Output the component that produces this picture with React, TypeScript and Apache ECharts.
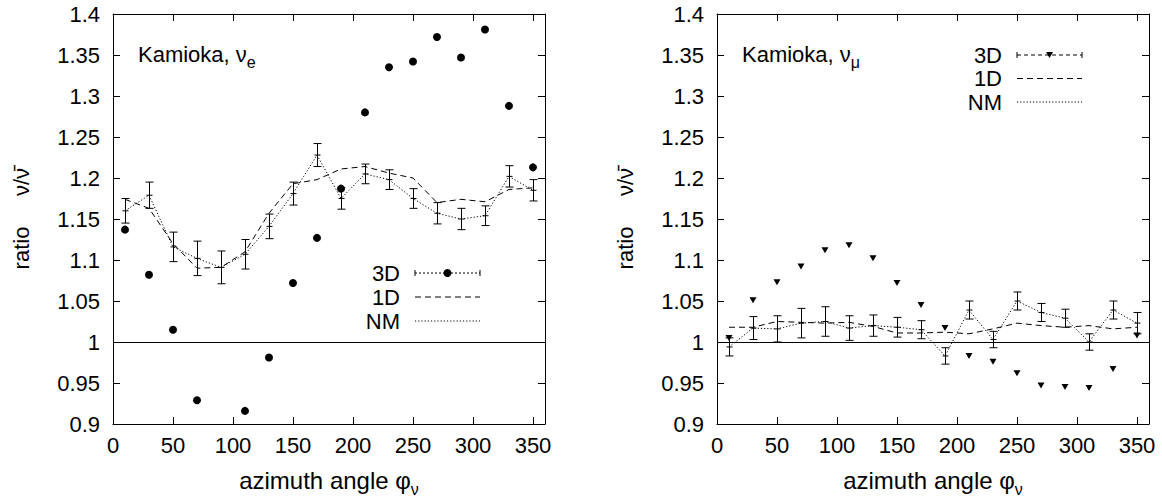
import React, { useEffect, useRef } from "react";
import * as echarts from "echarts";

const FONT = '"Liberation Sans", Arial, Helvetica, sans-serif';

// azimuth angle bins (degrees)
const angles = [10, 30, 50, 70, 90, 110, 130, 150, 170, 190, 210, 230, 250, 270, 290, 310, 330, 350];

// Kamioka, nu_e
const eCenter = [1.160, 1.179, 1.116, 1.102, 1.091, 1.107, 1.141, 1.181, 1.228, 1.175, 1.205, 1.198, 1.175, 1.157, 1.150, 1.154, 1.202, 1.185];
const eErr = [0.015, 0.016, 0.018, 0.021, 0.020, 0.018, 0.015, 0.014, 0.014, 0.013, 0.012, 0.012, 0.012, 0.013, 0.013, 0.012, 0.013, 0.013];
const e1D = [1.174, 1.163, 1.120, 1.090, 1.091, 1.110, 1.157, 1.193, 1.198, 1.211, 1.214, 1.206, 1.200, 1.170, 1.174, 1.171, 1.186, 1.188];
const e3D: (number | null)[] = [1.137, 1.082, 1.015, 0.929, null, 0.916, 0.981, 1.072, 1.127, 1.187, 1.280, 1.335, 1.342, 1.372, 1.347, 1.381, 1.288, 1.213];

// Kamioka, nu_mu
const mCenter = [0.994, 1.017, 1.016, 1.023, 1.025, 1.017, 1.020, 1.018, 1.015, 0.983, 1.039, 1.003, 1.050, 1.036, 1.029, 1.000, 1.039, 1.023];
const mErr = [0.011, 0.014, 0.016, 0.018, 0.018, 0.015, 0.013, 0.012, 0.011, 0.010, 0.011, 0.010, 0.011, 0.011, 0.011, 0.010, 0.011, 0.013];
const m1D = [1.018, 1.018, 1.025, 1.024, 1.023, 1.024, 1.019, 1.011, 1.011, 1.012, 1.010, 1.016, 1.023, 1.020, 1.018, 1.020, 1.016, 1.018];
const m3D: (number | null)[] = [1.005, 1.051, 1.073, 1.092, 1.112, 1.118, 1.102, 1.072, 1.045, 1.017, 0.983, 0.976, 0.962, 0.947, 0.945, 0.944, 0.967, 1.008];

const xTicks = { min: 0, max: 360, interval: 50 };
const yTicks = { min: 0.9, max: 1.4, interval: 0.05 };

const legendLabels = ["3D", "1D", "NM"];

function measure(text: string, size: number): number {
  const ctx = document.createElement("canvas").getContext("2d");
  if (!ctx) return text.length * size * 0.55;
  ctx.font = `${size}px ${FONT}`;
  return ctx.measureText(text).width;
}

const BLACK = "#000";
const DASH = [6, 4];
const DOT = [1.2, 2];

function txt(text: string, x: number, y: number, size: number, align = "left", extra: any = {}) {
  return {
    type: "text",
    x,
    y,
    ...extra,
    style: {
      text,
      x: 0,
      y: 0,
      fill: BLACK,
      fontSize: size,
      fontFamily: FONT,
      align,
      verticalAlign: "middle",
      textAlign: align,
      textVerticalAlign: "middle",
    },
  };
}

function xAxis(grid: number, pos: "bottom" | "top", labels: boolean) {
  return {
    type: "value",
    gridIndex: grid,
    position: pos,
    ...xTicks,
    axisLine: { show: true, onZero: false, lineStyle: { color: BLACK, width: 1 } },
    axisTick: { show: true, inside: true, length: 7, lineStyle: { color: BLACK, width: 1 } },
    axisLabel: {
      show: labels,
      color: BLACK,
      fontSize: 22,
      fontFamily: FONT,
      margin: 10,
      formatter: (v: number) => (v >= 360 ? "" : String(v)),
    },
    splitLine: { show: false },
  };
}

function yAxis(grid: number, pos: "left" | "right", labels: boolean) {
  return {
    type: "value",
    gridIndex: grid,
    position: pos,
    ...yTicks,
    axisLine: { show: true, onZero: false, lineStyle: { color: BLACK, width: 1 } },
    axisTick: { show: true, inside: true, length: 7, lineStyle: { color: BLACK, width: 1 } },
    axisLabel: {
      show: labels,
      color: BLACK,
      fontSize: 22,
      fontFamily: FONT,
      margin: 13,
      formatter: (v: number) => String(parseFloat(v.toFixed(2))),
    },
    splitLine: { show: false },
  };
}

function panelSeries(
  xi: number,
  yi: number,
  center: number[],
  err: number[],
  oneD: number[],
  threeD: (number | null)[],
  marker: "circle" | "triangle"
) {
  return [
    {
      name: "1D",
      type: "line",
      xAxisIndex: xi,
      yAxisIndex: yi,
      data: angles.map((a, i) => [a, oneD[i]]),
      symbol: "none",
      lineStyle: { color: BLACK, width: 1, type: DASH, opacity: 1 },
      markLine: {
        silent: true,
        symbol: "none",
        label: { show: false },
        lineStyle: { color: BLACK, type: "solid", width: 1, opacity: 1 },
        data: [{ yAxis: 1 }],
      },
      z: 3,
    },
    {
      name: "NM",
      type: "line",
      xAxisIndex: xi,
      yAxisIndex: yi,
      data: angles.map((a, i) => [a, center[i]]),
      symbol: "none",
      lineStyle: { color: BLACK, width: 1, type: DOT, opacity: 1 },
      z: 3,
    },
    {
      name: "3D errors",
      type: "custom",
      xAxisIndex: xi,
      yAxisIndex: yi,
      data: angles.map((a, i) => [a, center[i], err[i]]),
      encode: { x: 0, y: 1 },
      renderItem: (_p: any, api: any) => {
        const x = api.value(0);
        const y = api.value(1);
        const e = api.value(2);
        const c = api.coord([x, y]);
        const hi = api.coord([x, y + e]);
        const lo = api.coord([x, y - e]);
        const w = 4;
        const cx = Math.round(c[0]) + 0.5;
        const st = { stroke: BLACK, lineWidth: 1, opacity: 1 };
        return {
          type: "group",
          children: [
            { type: "line", shape: { x1: cx, y1: hi[1], x2: cx, y2: lo[1] }, style: st },
            { type: "line", shape: { x1: cx - w, y1: hi[1], x2: cx + w, y2: hi[1] }, style: st },
            { type: "line", shape: { x1: cx - w, y1: lo[1], x2: cx + w, y2: lo[1] }, style: st },
            { type: "line", shape: { x1: cx - 3, y1: c[1], x2: cx + 3, y2: c[1] }, style: st },
          ],
        };
      },
      z: 4,
    },
    {
      name: "3D",
      type: "scatter",
      xAxisIndex: xi,
      yAxisIndex: yi,
      data: angles.map((a, i) => [a, threeD[i]]).filter((d) => d[1] !== null),
      symbol: marker,
      symbolSize: marker === "circle" ? 8 : [7, 6],
      symbolRotate: marker === "triangle" ? 180 : 0,
      itemStyle: { color: BLACK, opacity: 1 },
      z: 5,
    },
  ];
}

function legendBlock(textRight: number, y0: number, step: number, kind: "circle" | "triangle") {
  const x1 = textRight + 15;
  const x2 = textRight + 80;
  const mid = (x1 + x2) / 2;
  const els: any[] = [];
  legendLabels.forEach((lab, i) => {
    const y = y0 + i * step;
    els.push(txt(lab, textRight, y, 22, "right"));
    const dash = i === 0 ? (kind === "circle" ? [2, 2] : [4, 3]) : i === 1 ? DASH : DOT;
    els.push({ type: "line", shape: { x1, y1: y, x2, y2: y }, style: { stroke: BLACK, lineWidth: 1, lineDash: dash } });
    if (i === 0) {
      els.push({ type: "line", shape: { x1, y1: y - 3, x2: x1, y2: y + 3 }, style: { stroke: BLACK, lineWidth: 1 } });
      els.push({ type: "line", shape: { x1: x2, y1: y - 3, x2, y2: y + 3 }, style: { stroke: BLACK, lineWidth: 1 } });
      if (kind === "circle") {
        els.push({ type: "circle", shape: { cx: mid, cy: y, r: 4 }, style: { fill: BLACK } });
      } else {
        els.push({ type: "polygon", shape: { points: [[mid - 3.5, y - 3], [mid + 3.5, y - 3], [mid, y + 3]] }, style: { fill: BLACK } });
      }
    }
  });
  return els;
}

export default function App() {
  const ref = useRef<HTMLDivElement>(null);
  useEffect(() => {
    if (!ref.current) return;
    const chart = echarts.init(ref.current, undefined, { renderer: "svg" });

    const grids = [
      { left: 113, top: 14, width: 432, height: 410 },
      { left: 717, top: 14, width: 432, height: 410 },
    ];

    const graphics: any[] = [];
    const kamW = measure("Kamioka, ν", 22);
    const xtW = measure("azimuth angle φ", 24);
    const subW = measure("ν", 16);
    grids.forEach((g, gi) => {
      // panel annotation
      const kx = g.left + 25;
      graphics.push(txt("Kamioka, ν", kx, 54, 22));
      graphics.push(txt(gi === 0 ? "e" : "μ", kx + kamW, 62, 16));
      // x axis title
      const total = xtW + subW;
      const sx = g.left + g.width / 2 - total / 2;
      graphics.push(txt("azimuth angle φ", sx, 480, 24));
      graphics.push(txt("ν", sx + xtW, 489, 16));
      // y axis title
      const yx = g.left - 92;
      graphics.push(txt("ratio", yx, 248, 22, "center", { rotation: Math.PI / 2 }));
      graphics.push(txt("ν/ν\u0304", yx, 182, 22, "center", { rotation: Math.PI / 2 }));
    });
    graphics.push(...legendBlock(400, 273, 24, "circle"));
    graphics.push(...legendBlock(1002, 55, 23.5, "triangle"));

    const option: any = {
      animation: false,
      backgroundColor: "#fff",
      grid: grids.map((g) => ({ ...g, containLabel: false, outerBoundsMode: "none" })),
      xAxis: [xAxis(0, "bottom", true), xAxis(0, "top", false), xAxis(1, "bottom", true), xAxis(1, "top", false)],
      yAxis: [yAxis(0, "left", true), yAxis(0, "right", false), yAxis(1, "left", true), yAxis(1, "right", false)],
      series: [
        ...panelSeries(0, 0, eCenter, eErr, e1D, e3D, "circle"),
        ...panelSeries(2, 2, mCenter, mErr, m1D, m3D, "triangle"),
      ],
      graphic: graphics,
    };
    chart.setOption(option);
    return () => chart.dispose();
  }, []);
  return (
    <div
      ref={ref}
      style={{ position: "absolute", left: 0, top: 0, width: 1162, height: 500, background: "#fff" }}
    />
  );
}
